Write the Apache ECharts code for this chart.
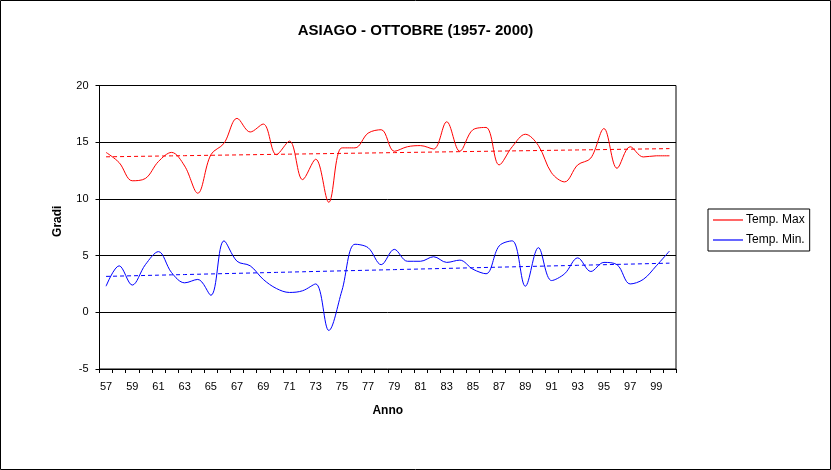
<!DOCTYPE html>
<html>
<head>
<meta charset="utf-8">
<script src="https://cdn.jsdelivr.net/npm/echarts@6/dist/echarts.min.js"></script>
<style>
html,body{margin:0;padding:0;background:#fff;}
#c{width:831px;height:470px;}
</style>
</head>
<body>
<div id="c"></div>
<script>
// Years 1957-2000
const years = ['57','58','59','60','61','62','63','64','65','66','67','68','69','70','71','72','73','74','75','76','77','78','79','80','81','82','83','84','85','86','87','88','89','90','91','92','93','94','95','96','97','98','99','00'];
const tempMax = [14.1,13.2,11.6,11.8,13.3,14.1,12.9,10.5,13.9,14.9,17.1,15.9,16.6,13.9,15.1,11.7,13.5,9.7,14.5,14.5,15.8,16.1,14.2,14.6,14.7,14.4,16.8,14.2,16.1,16.3,13.0,14.6,15.7,14.7,12.3,11.5,13.0,13.6,16.2,12.7,14.6,13.7,13.8,13.8];
const tempMin = [2.3,4.1,2.4,4.2,5.35,3.5,2.6,2.9,1.5,6.3,4.5,4.1,2.9,2.1,1.75,1.9,2.5,-1.6,1.9,6.0,5.7,4.2,5.55,4.5,4.5,4.9,4.4,4.6,3.8,3.4,5.85,6.3,2.3,5.7,2.8,3.4,4.8,3.6,4.4,4.2,2.5,2.9,4.1,5.4];
const seriesNames = ['Temp. Max','Temp. Min.'];
const yTicks = {min:-5, max:20, interval:5};

function trend(arr){
  const n = arr.length;
  let sx=0, sy=0, sxy=0, sxx=0;
  arr.forEach((v,i)=>{sx+=i; sy+=v; sxy+=i*v; sxx+=i*i;});
  const b = (n*sxy - sx*sy)/(n*sxx - sx*sx);
  const a = (sy - b*sx)/n;
  return arr.map((_,i)=>+(a+b*i).toFixed(3));
}

const font = '"Liberation Sans", Arial, sans-serif';
const chart = echarts.init(document.getElementById('c'), null, {renderer:'canvas'});
chart.setOption({
  animation:false,
  backgroundColor:'#fff',
  textStyle:{fontFamily:font, color:'#000'},
  title:{
    text:'ASIAGO - OTTOBRE (1957- 2000)',
    left:'center', top:23, padding:0,
    textStyle:{fontFamily:font, fontSize:15, fontWeight:'bold', color:'#000'}
  },
  graphic:[{type:'rect', shape:{x:0.5,y:0.5,width:830,height:469}, style:{fill:'none', stroke:'#000', lineWidth:1}, silent:true}],
  legend:{
    orient:'vertical', left:708, top:209,
    data:seriesNames,
    icon:'rect', itemWidth:30, itemHeight:1.2, itemGap:8,
    padding:[5,5,5,5],
    borderColor:'#000', borderWidth:1,
    textStyle:{fontFamily:font, fontSize:12, color:'#000', padding:[0,0,0,-2]}
  },
  grid:{left:99.5, right:155, top:85.5, bottom:101, show:true, borderColor:'#000', borderWidth:1, backgroundColor:'#fff'},
  xAxis:{
    type:'category', data:years, boundaryGap:true,
    name:'Anno', nameLocation:'middle', nameGap:36,
    nameTextStyle:{fontFamily:font, fontSize:12, fontWeight:'bold', color:'#000'},
    axisLine:{onZero:false, lineStyle:{color:'#000', width:1}},
    axisTick:{show:true, interval:0, length:4, lineStyle:{color:'#000'}},
    axisLabel:{interval:1, margin:12, fontFamily:font, fontSize:11, color:'#000'},
    splitLine:{show:false}
  },
  yAxis:{
    type:'value', min:yTicks.min, max:yTicks.max, interval:yTicks.interval,
    name:'Gradi', nameLocation:'middle', nameGap:36, nameRotate:90,
    nameTextStyle:{fontFamily:font, fontSize:12, fontWeight:'bold', color:'#000', padding:[0,0,0,12]},
    axisLine:{show:true, lineStyle:{color:'#000', width:1}},
    axisTick:{show:true, length:4, lineStyle:{color:'#000'}},
    axisLabel:{margin:11, fontFamily:font, fontSize:11, color:'#000'},
    splitLine:{show:true, lineStyle:{color:'#000', width:1}}
  },
  series:[
    {name:seriesNames[0], type:'line', data:tempMax, smooth:0.35, symbol:'none', lineStyle:{color:'#ff0000', width:1}, itemStyle:{color:'#ff0000'}},
    {name:seriesNames[1], type:'line', data:tempMin, smooth:0.35, symbol:'none', lineStyle:{color:'#0000ff', width:1}, itemStyle:{color:'#0000ff'}},
    {name:'trendMax', type:'line', data:trend(tempMax), symbol:'none', lineStyle:{color:'#ff0000', width:1, type:[4,3]}, itemStyle:{color:'#ff0000'}},
    {name:'trendMin', type:'line', data:trend(tempMin), symbol:'none', lineStyle:{color:'#0000ff', width:1, type:[4,3]}, itemStyle:{color:'#0000ff'}}
  ]
});
</script>
</body>
</html>
